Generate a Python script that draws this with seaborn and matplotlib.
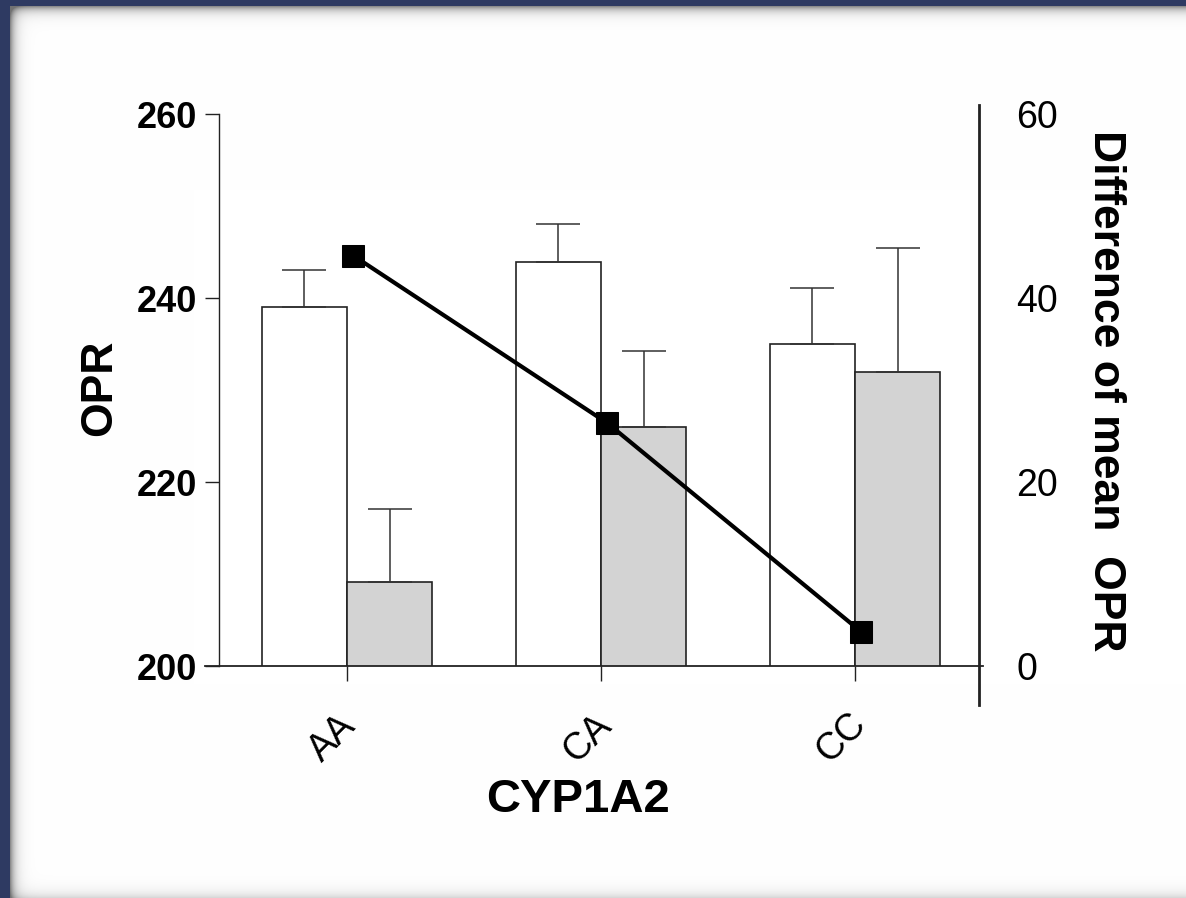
import numpy as np
import pandas as pd
import matplotlib
matplotlib.use("Agg")
import matplotlib.pyplot as plt
import matplotlib.transforms as mtransforms
import seaborn as sns

# values
genotypes = ["AA", "CA", "CC"]
groups = ["group 1", "group 2"]
opr_white = [239.0, 243.9, 235.0]
opr_gray = [209.1, 226.0, 232.0]
err_white = [4.0, 4.1, 6.1]
err_gray = [8.0, 8.2, 13.4]
diff_mean = [44.6, 26.4, 3.7]
left_ticks = [200, 220, 240, 260]
right_ticks = [0, 20, 40, 60]

df = pd.DataFrame({
    "genotype": genotypes * 2,
    "group": [groups[0]] * 3 + [groups[1]] * 3,
    "opr": opr_white + opr_gray,
})

sns.set_style("ticks")
plt.rcParams["font.family"] = ["Liberation Sans", "DejaVu Sans"]
plt.rcParams["text.color"] = "black"
plt.rcParams["axes.labelcolor"] = "black"
plt.rcParams["xtick.color"] = "black"
plt.rcParams["ytick.color"] = "black"

W, H = 1186, 898
fig = plt.figure(figsize=(W / 100, H / 100), dpi=100)

# navy frame with shadowed white page
yy, xx = np.mgrid[0:H, 0:W]
shade = 1 - 0.45 * np.exp(-(xx - 10) / 5.0) - 0.45 * np.exp(-(yy - 6) / 5.0)
shade = shade - 0.15 * np.exp(-(H - 1 - yy) / 6.0)
shade = np.clip(shade, 0.45, 1)
img = np.dstack([shade] * 3)
frame = (xx < 10) | (yy < 6)
img[frame] = np.array([46, 58, 98]) / 255
bg = fig.add_axes([0, 0, 1, 1], zorder=-5)
bg.imshow(img, aspect="auto", interpolation="nearest")
bg.axis("off")

ax = fig.add_axes([219 / W, (H - 666) / H, 760 / W, 552 / H])
ax.patch.set_alpha(0)

sns.barplot(data=df, x="genotype", y="opr", hue="group", order=genotypes,
            hue_order=groups, palette=["white", "#d3d3d3"], saturation=1,
            width=0.67, errorbar=None, edgecolor="#222222", linewidth=1.2,
            legend=False, ax=ax)

bars = sorted(ax.patches, key=lambda p: p.get_x())
bar_x = [p.get_x() + p.get_width() / 2 for p in bars]
bar_y = [p.get_height() for p in bars]
errs = [e for pair in zip(err_white, err_gray) for e in pair]
ax.errorbar(bar_x, bar_y, yerr=[np.zeros(len(errs)), errs], fmt="none",
            ecolor="#333333", elinewidth=1.1, capsize=15.5, capthick=1.1)

ax2 = ax.twinx()
sns.lineplot(x=np.arange(len(genotypes)) + 0.025, y=diff_mean, ax=ax2,
             color="black", marker="s", markersize=16, markeredgecolor="black",
             linewidth=3)

ax.set_ylim(200, 260)
ax2.set_ylim(0, 60)
ax.set_xlim(-0.504, 2.488)
ax2.set_xlim(-0.504, 2.488)

for s in ["top", "right"]:
    ax.spines[s].set_visible(False)
for s in ["top", "left", "bottom"]:
    ax2.spines[s].set_visible(False)
ax.spines["left"].set_bounds(200, 260)
ax.spines["left"].set_linewidth(1.0)
ax.spines["bottom"].set_bounds(-0.56, 2.504)
ax.spines["bottom"].set_linewidth(1.3)
ax2.spines["right"].set_bounds(-4.2, 61)
ax2.spines["right"].set_linewidth(2.0)
for sp in list(ax.spines.values()) + list(ax2.spines.values()):
    sp.set_color("#222222")

ax.set_yticks(left_ticks)
ax.tick_params(axis="y", length=10, width=1.0, pad=6, labelsize=26,
               colors="#222222", labelcolor="black")
for lbl in ax.get_yticklabels():
    lbl.set_fontweight("bold")

ax.set_xticks(range(len(genotypes)))
ax.set_xticklabels(genotypes, rotation=45, ha="center", va="center")
ax.tick_params(axis="x", length=11, width=1.0, pad=41, labelsize=27,
               colors="#222222", labelcolor="black")
shift = mtransforms.ScaledTranslation(-14 / 100, 0, fig.dpi_scale_trans)
for lbl in ax.get_xticklabels():
    lbl.set_transform(lbl.get_transform() + shift)

ax2.set_yticks(right_ticks)
ax2.tick_params(axis="y", length=0, pad=27, labelsize=27, labelcolor="black")

ax.set_xlabel("CYP1A2", fontsize=34, fontweight="bold", va="center")
ax.xaxis.set_label_coords(0.4724, -0.2428)
ax.set_ylabel("OPR", fontsize=32, fontweight="bold", va="center")
ax.yaxis.set_label_coords(-0.157, 0.504)
ax2.set_ylabel("Difference of mean  OPR", fontsize=32, fontweight="bold",
               rotation=270, va="center")
ax2.yaxis.set_label_coords(1.166, 0.498)

fig.savefig("out.png", dpi=100)
